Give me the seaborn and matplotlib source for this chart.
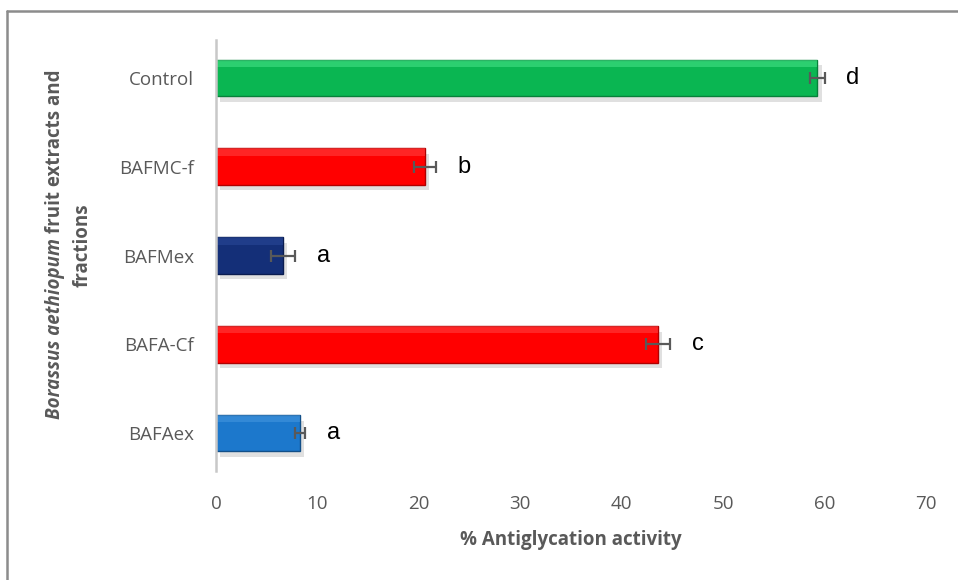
import matplotlib.pyplot as plt
import matplotlib.patheffects as pe
from matplotlib.lines import Line2D
from matplotlib.patches import Rectangle
import seaborn as sns

# data
samples = ["Control", "BAFMC-f", "BAFMex", "BAFA-Cf", "BAFAex"]
activity = [59.3, 20.6, 6.6, 43.6, 8.3]
activity_err = [0.7, 1.1, 1.2, 1.2, 0.5]
letters = ["d", "b", "a", "c", "a"]

bar_colors = {"Control": "#0AB652", "BAFMC-f": "#FF0000", "BAFMex": "#142F78",
              "BAFA-Cf": "#FF0000", "BAFAex": "#1C78CC"}
edge_colors = {"Control": "#07803A", "BAFMC-f": "#B00000", "BAFMex": "#0A1C50",
               "BAFA-Cf": "#B00000", "BAFAex": "#124F88"}
light_colors = {"Control": "#4FE88F", "BAFMC-f": "#FF4A4A", "BAFMex": "#2C4C9C",
                "BAFA-Cf": "#FF4A4A", "BAFAex": "#4A9BE0"}

W, H = 958, 580
GREY = "#595959"

sns.set_style("white")
plt.rcParams["font.family"] = ["Open Sans", "DejaVu Sans"]

fig = plt.figure(figsize=(W / 100, H / 100), dpi=100)
ax = fig.add_axes([216 / W, 1 - 471 / H, 710 / W, 431 / H])

sns.barplot(x=activity, y=samples, hue=samples, palette=bar_colors, legend=False,
            orient="h", width=0.41, saturation=1, ax=ax, edgecolor="none")

# bevel look: darker edge, light top strip, soft shadow
for patch, name in zip(ax.patches, samples):
    patch.set_edgecolor(edge_colors[name])
    patch.set_linewidth(1.0)
    patch.set_path_effects([pe.SimplePatchShadow(offset=(3, -4), shadow_rgbFace="#999999", alpha=0.3),
                            pe.Normal()])
    ax.add_patch(Rectangle((patch.get_x(), patch.get_y()), patch.get_width(), patch.get_height() * 0.2,
                           facecolor=light_colors[name], edgecolor="none", alpha=0.5, zorder=patch.get_zorder() + 0.1))

ax.errorbar(activity, range(len(samples)), xerr=activity_err, fmt="none", ecolor=GREY,
            elinewidth=1.6, capsize=4.3, capthick=1.6, zorder=5)

for i, (v, e, t) in enumerate(zip(activity, activity_err, letters)):
    ax.annotate(t, xy=(v + e, i), xytext=(28, 0), textcoords="offset pixels",
                ha="center", va="center", fontsize=17, color="black",
                family=["Liberation Sans", "DejaVu Sans"])

ax.set_xlim(0, 70)
ax.set_xticks(range(0, 71, 10))
for s in ["top", "right", "bottom"]:
    ax.spines[s].set_visible(False)
ax.spines["left"].set_color("#C8C8C8")
ax.spines["left"].set_linewidth(1.8)
ax.tick_params(axis="both", length=0, labelsize=13.5, labelcolor=GREY)
ax.tick_params(axis="y", pad=16)
ax.tick_params(axis="x", pad=17)

ax.set_ylabel("")
ax.set_xlabel("% Antiglycation activity", fontsize=13.5, fontweight="bold", color=GREY, va="center")
ax.xaxis.set_label_coords(0.5, -(540 - 471) / 431)

# y label: two lines, first one partly italic
fig.canvas.draw()
r = fig.canvas.get_renderer()
t1 = fig.text(55 / W, 0, "Borassus aethiopum", rotation=90, style="italic", fontweight="bold",
              fontsize=13.5, color=GREY, ha="center", va="bottom")
t2 = fig.text(55 / W, 0, " fruit extracts and", rotation=90, fontweight="bold",
              fontsize=13.5, color=GREY, ha="center", va="bottom")
h1 = t1.get_window_extent(r).height
h2 = t2.get_window_extent(r).height
y0 = (H - 244) - (h1 + h2) / 2
t1.set_y(y0 / H)
t2.set_y((y0 + h1) / H)
fig.text(83 / W, 1 - 245 / H, "fractions", rotation=90, fontweight="bold",
         fontsize=13.5, color=GREY, ha="center", va="center")

# chart frame (only top and left edges visible in the crop)
fig.add_artist(Line2D([7 / W, 7 / W], [0, 1 - 11 / H], color="#8C8C8C", lw=1.8))
fig.add_artist(Line2D([7 / W, 1], [1 - 11 / H, 1 - 11 / H], color="#8C8C8C", lw=1.8))

fig.savefig("out.png", dpi=100)
